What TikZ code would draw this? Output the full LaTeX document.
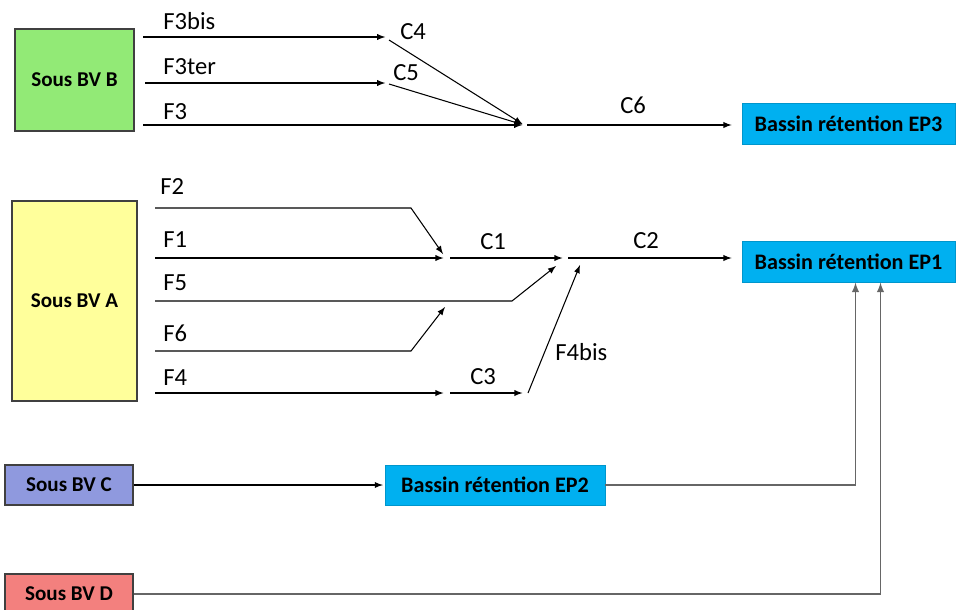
\documentclass[tikz,border=0pt]{standalone}
\usepackage{fontspec}
\setmainfont{Carlito}
\usepackage{xcolor}
\usetikzlibrary{shapes,arrows,positioning}
\definecolor{bvB}{RGB}{146,234,118}
\definecolor{bvA}{RGB}{255,255,155}
\definecolor{bvC}{RGB}{143,153,222}
\definecolor{bvD}{RGB}{243,128,126}
\definecolor{bassin}{RGB}{0,176,240}
\tikzset{
  sbv/.style={draw=black!75, line width=0.6pt, inner sep=0pt, font=\fontsize{12}{14}\selectfont\bfseries},
  bas/.style={draw=bassin!85!black, fill=bassin, line width=0.5pt, inner sep=0pt,
    minimum height=0.82cm, font=\fontsize{12.6}{14}\selectfont\bfseries},
  flux/.style={-latex, line width=0.6pt},
  trop/.style={-latex, line width=0.9pt, draw=black!60},
  lbl/.style={anchor=west, inner sep=0pt, font=\fontsize{14}{16}\selectfont}
}

\begin{document}
\begin{tikzpicture}[x=0.02cm,y=-0.02cm]
\useasboundingbox (0,0) rectangle (956,609);
% sous-bassins versants
\node[sbv, fill=bvB, minimum width=2.38cm, minimum height=2.04cm] (B) at (74.5,80) {Sous BV B};
\node[sbv, fill=bvA, minimum width=2.5cm, minimum height=4cm] (A) at (74.5,301) {Sous BV A};
\node[sbv, fill=bvC, minimum width=2.56cm, minimum height=0.8cm] (C) at (69,485) {Sous BV C};
\node[sbv, fill=bvD, minimum width=2.56cm, minimum height=0.8cm] (D) at (69,594) {Sous BV D};
% bassins de retention
\node[bas, minimum width=4.26cm] (EP3) at (848.5,124) {Bassin rétention EP3};
\node[bas, minimum width=4.26cm] (EP1) at (848.5,261.5) {Bassin rétention EP1};
\node[bas, minimum width=4.4cm, minimum height=0.8cm] (EP2) at (495,485) {Bassin rétention EP2};

% points de depart et jonctions
\coordinate (s3bis) at (143,37);
\coordinate (s3ter) at (145,83);
\coordinate (s3) at (143,125);
\coordinate (jC4) at (387,37);
\coordinate (jC5) at (387,83);
\coordinate (j6) at (524,125);
\coordinate (s2) at (155,208);
\coordinate (k2) at (411,208);
\coordinate (s1) at (155,258);
\coordinate (s5) at (155,301);
\coordinate (k5) at (512,301);
\coordinate (s6) at (155,351);
\coordinate (k6) at (411,351);
\coordinate (e6) at (445,307);
\coordinate (s4) at (155,393);
\coordinate (j1) at (447,258);
\coordinate (j2) at (566,258);
\coordinate (j3) at (447,393);
\coordinate (j4) at (526,393);

% Sous BV B
\draw[flux, shorten >=1pt] (s3bis) -- (jC4);
\draw[flux, shorten >=1pt] (s3ter) -- (jC5);
\draw[flux, shorten >=1pt] (s3) -- (j6);
\draw[flux, shorten >=1pt] ([shift={(2,3)}]jC4) -- (j6);
\draw[flux, shorten >=1pt] ([shift={(2,1)}]jC5) -- (j6);
\draw[flux, shorten >=5.7pt] ([shift={(3,0)}]j6) -- (EP3.west |- j6);
\node[lbl] (l3bis) at (163,21) {F3bis};
\node[lbl] (l3ter) at (163,67) {F3ter};
\node[lbl] (l3) at (163,112) {F3};
\node[lbl] (lC4) at (400,32) {C4};
\node[lbl] (lC5) at (393,73) {C5};
\node[lbl] (lC6) at (620,105) {C6};

% Sous BV A
\draw[flux] (s2) -- (k2) -- ([shift={(-4,-4)}]j1);
\draw[flux, shorten >=2pt] (s1) -- (j1);
\draw[flux, shorten >=2pt] ([shift={(3,0)}]j1) -- (j2);
\draw[flux] (s5) -- (k5) -- ([shift={(-10,8)}]j2);
\draw[flux] (s6) -- (k6) -- (e6);
\draw[flux, shorten >=2pt] (s4) -- (j3);
\draw[flux, shorten >=2pt] ([shift={(3,0)}]j3) -- (j4);
\draw[flux] ([shift={(2,0)}]j4) -- ([shift={(14,7)}]j2);
\draw[flux, shorten >=5.7pt] ([shift={(2,0)}]j2) -- (EP1.west |- j2);
\node[lbl] (l2) at (160,187) {F2};
\node[lbl] (l1) at (163,240) {F1};
\node[lbl] (l5) at (163,283) {F5};
\node[lbl] (l6) at (163,333) {F6};
\node[lbl] (l4) at (163,378) {F4};
\node[lbl] (lC1) at (480,242) {C1};
\node[lbl] (lC2) at (633,241) {C2};
\node[lbl] (lC3) at (470,377) {C3};
\node[lbl] (l4bis) at (555,352) {F4bis};

% Sous BV C et D
\draw[flux, shorten >=1pt] (C.east) -- (EP2.west);
\draw[trop] (EP2.east) -| ([shift={(7,0)}]EP1.south);
\draw[trop] (D.east) -| ([shift={(32,0)}]EP1.south);
\end{tikzpicture}
\end{document}
